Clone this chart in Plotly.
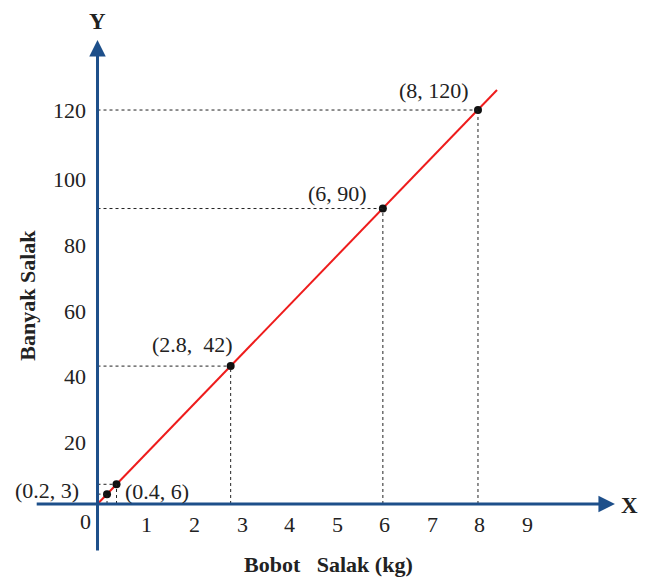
import plotly.graph_objects as go

# data points (bobot kg, banyak salak)
px = [0.2, 0.4, 2.8, 6, 8]
py = [3, 6, 42, 90, 120]
point_labels = ["(0.2, 3)", "(0.4, 6)", "(2.8,  42)", "(6, 90)", "(8, 120)"]
x_ticks = [1, 2, 3, 4, 5, 6, 7, 8, 9]
y_ticks = [20, 40, 60, 80, 100, 120]
line_end = [8.40, 126.1]

AXIS = "#1d4f8a"
FONT = "Liberation Serif"
TXT = dict(family=FONT, size=22, color="#222")

fig = go.Figure()

# dotted guides to the axes
for x, y in zip(px, py):
    fig.add_shape(type="line", x0=0, y0=y, x1=x, y1=y,
                  line=dict(color="#222", width=1, dash="dot"))
    fig.add_shape(type="line", x0=x, y0=0, x1=x, y1=y,
                  line=dict(color="#222", width=1, dash="dot"))

# axes with arrows
fig.add_annotation(x=10.88, y=0, ax=-1.31, ay=0, xref="x", yref="y", axref="x", ayref="y",
                   showarrow=True, arrowhead=2, arrowsize=1.1, arrowwidth=3, arrowcolor=AXIS, text="")
fig.add_annotation(x=0, y=141.3, ax=0, ay=-14.6, xref="x", yref="y", axref="x", ayref="y",
                   showarrow=True, arrowhead=2, arrowsize=1.1, arrowwidth=3, arrowcolor=AXIS, text="")

# red line
fig.add_trace(go.Scatter(x=[0, line_end[0]], y=[0, line_end[1]], mode="lines",
                         line=dict(color="#ee1c1c", width=2), hoverinfo="skip"))

# points
fig.add_trace(go.Scatter(x=px, y=py, mode="markers",
                         marker=dict(color="#111", size=8)))

# point labels
label_pos = [(-1.07, 4.2), (1.25, 3.8), (2.0, 48.5), (5.05, 94.5), (7.08, 126)]
for t, (lx, ly) in zip(point_labels, label_pos):
    fig.add_annotation(x=lx, y=ly, text=t, showarrow=False, font=TXT)

# tick labels
for v in x_ticks:
    fig.add_annotation(x=v + 0.04, y=-6.3, text=str(v), showarrow=False, font=TXT)
fig.add_annotation(x=-0.25, y=-5.3, text="0", showarrow=False, font=TXT)
for v in y_ticks:
    fig.add_annotation(x=-0.2, y=v, text=str(v), showarrow=False, xanchor="right",
                       yshift=-4 if v < 120 else 0, font=TXT)

# axis titles
fig.add_annotation(x=0, y=147, text="<b>Y</b>", showarrow=False,
                   font=dict(family=FONT, size=23, color="#222"))
fig.add_annotation(x=11.18, y=-0.4, text="<b>X</b>", showarrow=False,
                   font=dict(family=FONT, size=23, color="#222"))
fig.add_annotation(x=4.85, y=-18.3, text="<b>Bobot   Salak (kg)</b>", showarrow=False,
                   font=dict(family=FONT, size=22, color="#222"))
fig.add_annotation(x=-1.48, y=63.5, text="<b>Banyak Salak</b>", showarrow=False, textangle=-90,
                   font=dict(family=FONT, size=22, color="#222"))

fig.update_xaxes(range=[-1.882, 11.575], visible=False)
fig.update_yaxes(range=[-22.24, 151.08], visible=False)
fig.update_layout(width=640, height=569, margin=dict(l=0, r=0, t=0, b=0),
                  plot_bgcolor="white", paper_bgcolor="white", showlegend=False)

fig.write_html("out.html")
